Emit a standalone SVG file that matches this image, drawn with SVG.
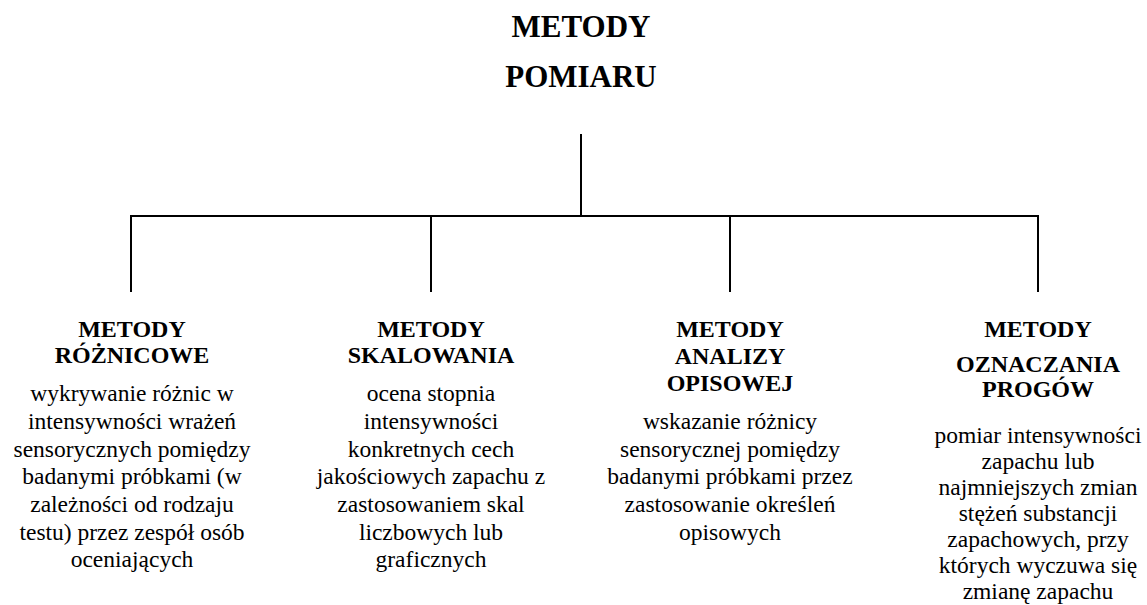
<svg xmlns="http://www.w3.org/2000/svg" width="1147" height="605" viewBox="0 0 1147 605">
<style>
text{fill:#000;text-anchor:middle}
.t{font-size:31px;font-weight:bold}
.h{font-size:24px;font-weight:bold}
.b{font-size:23.5px}
.c{stroke:#000;stroke-width:2;fill:none}
</style>
<rect width="1147" height="605" fill="#fff"/>
<g font-family="'Liberation Serif', 'Times New Roman', Tinos, 'DejaVu Serif', serif">
<g id="root">
<text class="t" x="581" y="37">METODY</text>
<text class="t" x="581" y="87">POMIARU</text>
</g>
<g id="connectors">
<path class="c" d="M581 134V216M131 292V216H1038V292M431 216V292M730 216V292"/>
</g>
<g id="n1">
<text class="h" x="132" y="337">METODY</text>
<text class="h" x="132" y="363">RÓŻNICOWE</text>
<text class="b" x="132" y="401">wykrywanie różnic w</text>
<text class="b" x="132" y="429">intensywności wrażeń</text>
<text class="b" x="132" y="457">sensorycznych pomiędzy</text>
<text class="b" x="132" y="484">badanymi próbkami (w</text>
<text class="b" x="132" y="512">zależności od rodzaju</text>
<text class="b" x="132" y="540">testu) przez zespół osób</text>
<text class="b" x="132" y="567">oceniających</text>
</g>
<g id="n2">
<text class="h" x="431" y="337">METODY</text>
<text class="h" x="431" y="363">SKALOWANIA</text>
<text class="b" x="431" y="401">ocena stopnia</text>
<text class="b" x="431" y="429">intensywności</text>
<text class="b" x="431" y="457">konkretnych cech</text>
<text class="b" x="431" y="484">jakościowych zapachu z</text>
<text class="b" x="431" y="512">zastosowaniem skal</text>
<text class="b" x="431" y="540">liczbowych lub</text>
<text class="b" x="431" y="567">graficznych</text>
</g>
<g id="n3">
<text class="h" x="730" y="337">METODY</text>
<text class="h" x="730" y="364">ANALIZY</text>
<text class="h" x="730" y="391">OPISOWEJ</text>
<text class="b" x="730" y="429">wskazanie różnicy</text>
<text class="b" x="730" y="457">sensorycznej pomiędzy</text>
<text class="b" x="730" y="484">badanymi próbkami przez</text>
<text class="b" x="730" y="512">zastosowanie określeń</text>
<text class="b" x="730" y="540">opisowych</text>
</g>
<g id="n4">
<text class="h" x="1038" y="337">METODY</text>
<text class="h" x="1038" y="372">OZNACZANIA</text>
<text class="h" x="1038" y="397">PROGÓW</text>
<text class="b" x="1038" y="443">pomiar intensywności</text>
<text class="b" x="1038" y="469">zapachu lub</text>
<text class="b" x="1038" y="495">najmniejszych zmian</text>
<text class="b" x="1038" y="521">stężeń substancji</text>
<text class="b" x="1038" y="547">zapachowych, przy</text>
<text class="b" x="1038" y="573">których wyczuwa się</text>
<text class="b" x="1038" y="599">zmianę zapachu</text>
</g>
</g>
</svg>
